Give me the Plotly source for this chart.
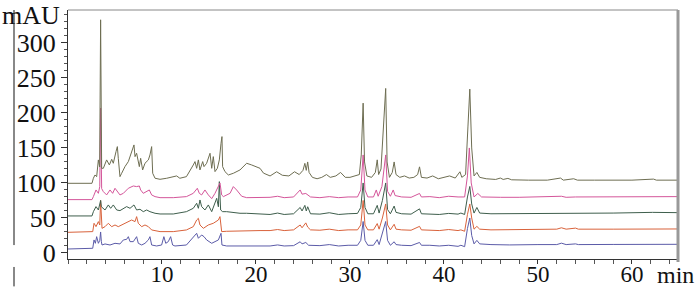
import plotly.graph_objects as go

# ---- data (time in min, absorbance in mAU) ----
t_s5 = [0, 2.55, 2.70, 2.87, 3.05, 3.23, 3.37, 3.47, 3.58, 3.76, 4.11, 4.40, 4.65, 4.82, 5.11, 5.25, 5.35, 5.53, 5.71, 6.06,
        6.42, 6.77, 7.02, 7.13, 7.30, 7.59, 7.73, 7.94, 8.19, 8.55, 8.72, 8.90, 9.01, 9.26, 9.79, 10.5, 11.2, 11.56, 11.9, 12.6,
        13.33, 13.51, 13.69, 13.87, 14.04, 14.33, 14.47, 14.75, 15.11, 15.29, 15.46, 15.64, 15.89, 16.10, 16.28, 16.38, 16.45,
        16.70, 17.06, 17.59, 18.30, 19.01, 19.54, 20.43, 20.8, 21.5, 22.2, 22.8, 23.5, 24.1, 24.6, 25.0, 25.2, 25.35, 25.5,
        25.65, 26.0, 26.5, 27.0, 27.5, 27.9, 28.5, 29.0, 29.5, 30.0, 30.6, 31.0, 31.2, 31.4, 31.55, 31.8, 32.3, 32.7, 32.9,
        33.05, 33.3, 33.5, 33.8, 33.95, 34.2, 34.5, 34.7, 34.9, 35.3, 35.8, 36.3, 36.8, 37.2, 37.4, 37.6, 38.2, 38.8, 39.4,
        40.0, 40.6, 41.2, 41.7, 41.9, 42.3, 42.55, 42.75, 42.95, 43.2, 43.5, 43.8, 44.5, 45.5, 46.0, 46.3, 46.8, 47.2, 49.0,
        51.0, 52.4, 52.7, 53.8, 54.2, 56.0, 58.0, 60.0, 62.3, 62.6, 64.9]
v_s5 = [99.5, 99.5, 106.7, 111.4, 109, 132.9, 123, 333, 121, 120.9, 132.9, 125.7, 133.8, 128.1, 144.8, 151.9, 135.2, 109, 113.8, 123.3,
        130.5, 144.8, 154.3, 137.6, 142.4, 123.3, 135.2, 118.6, 128.1, 132.9, 140, 151.9, 113.8, 106.7, 105.2, 106.7, 109, 110, 106.7, 109,
        125.7, 130.5, 120.9, 132.9, 118.6, 130.5, 123.3, 128.1, 142.4, 120.9, 137.6, 116.2, 120.9, 132.9, 156.7, 166.2, 123.3,
        116.2, 111.4, 113.8, 118.6, 128.1, 125.7, 120.9, 114, 110, 116, 111, 110, 116, 112, 118, 128, 118, 130,
        115, 108, 106, 108, 112, 108, 110, 115, 108, 108, 110, 112, 140, 214, 130, 110, 108, 115, 133,
        112, 120, 160, 235, 130, 108, 115, 130, 112, 108, 110, 107, 108, 112, 123, 108, 107, 110, 106,
        108, 110, 107, 116, 108, 112, 180, 234, 150, 110, 115, 108, 106, 105, 107, 105, 106.5, 104.5, 104,
        104, 107, 104, 106, 104, 104, 104, 104, 105.5, 104, 104]

t_s4 = [0, 2.55, 2.70, 2.98, 3.23, 3.38, 3.47, 3.58, 3.76, 4.11, 4.47, 4.75, 5.0, 5.25, 5.53, 5.89, 6.42, 6.95, 7.30, 7.59,
        7.73, 8.01, 8.37, 8.65, 8.90, 9.26, 9.79, 11.2, 12.6, 13.33, 13.76, 13.97, 14.22, 14.57, 14.93, 15.29, 15.64, 15.89,
        16.17, 16.35, 16.53, 17.24, 17.59, 17.94, 18.48, 19.01, 20.43, 21.5, 22.3, 23.0, 24.0, 24.7, 24.9, 25.3, 25.8, 26.8,
        27.8, 28.8, 29.8, 30.8, 31.15, 31.4, 31.6, 31.9, 32.5, 32.8, 33.0, 33.4, 33.8, 34.0, 34.3, 34.6, 34.8, 35.5, 36.5,
        37.4, 37.6, 38.5, 39.5, 40.5, 41.5, 42.2, 42.5, 42.7, 42.9, 43.2, 43.6, 44.0, 46.0, 48.0, 52.5, 53.0, 54.0, 58.0,
        62.0, 64.9]
v_s4 = [76.2, 76.2, 80.5, 90, 85.2, 95, 207, 92, 87.6, 82.9, 90, 85.2, 92.4, 87.6, 82.9, 85.2, 92.4, 95.7, 94.8, 95.7,
        90, 85.2, 87.6, 90, 82.9, 80.5, 79, 79, 80.5, 85.2, 92.4, 85.2, 82.9, 90, 82.9, 77.6, 85.2, 92.4,
        100, 82.9, 80.5, 85.2, 94.8, 90, 81, 79, 79, 79.5, 81, 79, 80, 90, 84, 85, 80, 79,
        80.5, 79, 80, 80, 90, 140, 90, 80, 80, 90, 81, 95, 140, 88, 81, 90, 82, 80, 79.5,
        85, 80, 80.5, 79, 81, 80, 80, 110, 150, 100, 80, 85, 80, 79.5, 79.5, 81, 79.5, 80, 80,
        80.5, 80.5]

t_s3 = [0, 2.55, 2.70, 2.98, 3.23, 3.40, 3.47, 3.55, 3.69, 3.94, 4.29, 4.54, 4.82, 5.18, 5.53, 5.89, 6.24, 6.60, 7.02, 7.30,
        7.66, 8.01, 8.37, 8.72, 9.26, 9.79, 11.2, 12.6, 13.33, 13.69, 13.87, 14.04, 14.22, 14.57, 14.93, 15.29, 15.53, 15.82,
        16.0, 16.10, 16.24, 16.45, 16.88, 18.3, 19.0, 20.43, 21.5, 22.3, 23.0, 24.0, 24.7, 24.9, 25.2, 25.35, 25.5, 25.8,
        26.8, 27.8, 28.8, 29.8, 30.8, 31.15, 31.4, 31.6, 31.9, 32.5, 32.9, 33.1, 33.45, 33.8, 34.0, 34.3, 34.7, 34.9, 35.5,
        36.5, 37.4, 37.6, 38.5, 39.5, 40.5, 41.5, 41.8, 42.2, 42.5, 42.75, 42.95, 43.2, 43.5, 43.8, 45.0, 47.0, 52.5, 53.0,
        54.0, 58.0, 62.2, 64.9]
v_s3 = [52.9, 52.9, 59, 66.2, 61.4, 68.6, 75, 66, 63.8, 61.4, 68.6, 63.8, 68.6, 61.4, 60.5, 63.8, 66.2, 63.8, 68.6, 61.4,
        62.4, 59, 61.4, 59, 56.7, 55.7, 55.7, 59, 63.8, 71, 63.8, 75.7, 66.2, 61.4, 68.6, 59, 68.6, 78.1,
        66, 101.9, 61.4, 59, 59, 56.7, 56.7, 55.5, 55, 57, 55, 56, 65, 60, 68, 60, 66, 56,
        55.5, 57.5, 55, 56, 56.5, 65, 100, 65, 56, 56, 68, 57, 75, 100, 62, 56, 67, 58, 56,
        55.5, 63, 56, 56, 55, 56.5, 55.5, 57, 55, 80, 95, 70, 57, 65, 57, 56, 56, 57, 56,
        57, 57, 58, 57.6]

t_s2 = [0, 2.55, 2.63, 2.77, 2.98, 3.23, 3.38, 3.47, 3.56, 3.62, 3.94, 4.29, 4.65, 5.0, 5.35, 5.71, 6.24, 6.77, 7.13, 7.30,
        7.48, 7.84, 8.19, 8.55, 8.90, 9.79, 11.2, 12.6, 13.33, 13.69, 13.87, 14.04, 14.40, 14.93, 15.46, 16.0, 16.17, 16.35,
        16.88, 19.0, 20.43, 21.5, 22.3, 23.0, 24.0, 24.7, 24.9, 25.3, 25.5, 25.8, 26.8, 27.8, 28.8, 29.8, 30.8, 31.15, 31.4,
        31.6, 31.9, 32.5, 32.9, 33.1, 33.45, 33.8, 34.0, 34.3, 34.7, 34.9, 35.5, 36.5, 37.4, 37.6, 38.5, 39.5, 40.5, 41.5,
        41.8, 42.2, 42.5, 42.75, 42.95, 43.2, 43.5, 43.8, 45.0, 47.0, 50.0, 52.0, 52.5, 53.0, 54.0, 54.3, 58.0, 62.0, 64.9]
v_s2 = [29.5, 29.5, 30.5, 42.4, 37.6, 44.8, 40, 75, 42, 35.2, 37.6, 42.4, 37.6, 40, 37.6, 40, 42.4, 47.1, 44.8, 51.9,
        42.4, 37.6, 40, 37.6, 32.9, 30.5, 30.5, 32.9, 37.6, 47.1, 49.5, 40, 35.2, 40, 42.4, 47.1, 51.9, 30.5,
        31, 32, 32, 32, 33.5, 32, 33, 40, 36, 43, 37, 33, 32.5, 34, 32, 33, 33, 40, 75,
        40, 33, 33, 42, 34, 50, 70, 40, 33, 41, 34, 33, 32.5, 38, 33, 33, 32, 33.5, 32,
        33, 31, 55, 70, 50, 34, 38, 34, 33, 33, 33.5, 34, 36, 34, 35.5, 34, 34, 34.3, 34.3]

t_s1 = [0, 2.55, 2.63, 2.77, 2.91, 3.05, 3.23, 3.38, 3.47, 3.55, 3.62, 3.94, 4.47, 5.0, 5.53, 5.89, 6.24, 6.42, 6.60, 6.95,
        7.30, 7.48, 7.84, 8.19, 8.55, 8.72, 8.90, 9.43, 9.96, 10.2, 10.4, 10.67, 10.92, 11.13, 11.38, 12.6, 13.33, 13.69,
        13.87, 14.22, 14.47, 14.75, 15.29, 15.64, 16.0, 16.28, 16.38, 16.88, 20.43, 21.5, 22.3, 23.0, 24.0, 24.7, 24.9, 25.3,
        25.6, 26.8, 27.8, 28.8, 29.8, 30.8, 31.15, 31.4, 31.6, 31.9, 32.5, 32.9, 33.1, 33.45, 33.8, 34.0, 34.3, 34.7, 34.9,
        35.5, 36.5, 37.4, 37.6, 38.5, 39.5, 40.5, 41.5, 41.8, 42.2, 42.5, 42.75, 42.95, 43.2, 43.5, 43.8, 45.0, 47.0, 50.0,
        52.0, 52.5, 53.0, 54.0, 54.3, 58.0, 62.0, 64.9]
v_s1 = [5.7, 5.7, 6.7, 18.6, 13.8, 23.3, 13.8, 18, 30, 16, 11.4, 12.9, 11.4, 13.8, 12.9, 18.6, 19.5, 23.3, 16.2, 16.2,
        23.3, 13.8, 11.4, 13.8, 18.6, 23.3, 11.4, 10, 11.4, 23.3, 13.8, 16.2, 23.3, 11.4, 10, 11.4, 23.3, 28.1,
        21, 25.7, 23.3, 18.6, 13.8, 16.2, 18.6, 28.1, 11.4, 10, 10, 10, 11.5, 10, 10.5, 16, 13, 15,
        11, 10.5, 12, 10, 11, 11, 18, 45, 18, 11, 11, 19, 12, 28, 45, 18, 11, 16, 12,
        11, 10.5, 15, 11, 11, 10, 11, 9.5, 11, 9, 35, 50, 25, 13, 18, 13, 12, 11.5, 12,
        12, 14, 12, 13, 12, 12.2, 12.4, 12.4]

series = [
    (t_s1, v_s1, "#5b5ba8"),
    (t_s2, v_s2, "#d9623b"),
    (t_s3, v_s3, "#3e5e4c"),
    (t_s4, v_s4, "#d4569a"),
    (t_s5, v_s5, "#6e6e52"),
]

y_ticks = [0, 50, 100, 150, 200, 250, 300]
x_ticks = [10, 20, 30, 40, 50, 60]

fig = go.Figure()
for t, v, c in series:
    fig.add_trace(go.Scatter(x=t, y=v, mode="lines", line=dict(color=c, width=1), showlegend=False,
                             hoverinfo="skip"))

font = "Liberation Serif, Times New Roman, serif"
fig.update_layout(
    width=700, height=287,
    margin=dict(l=68, r=22, t=10, b=28),
    paper_bgcolor="white", plot_bgcolor="white",
    xaxis=dict(range=[0, 64.9], tickvals=x_ticks, ticks="outside", ticklen=4, tickcolor="#333",
               showline=True, linecolor="#333", linewidth=1, showgrid=False, zeroline=False, automargin=False,
               ticklabelstandoff=-10,
               tickfont=dict(family=font, size=23, color="#111"),
               minor=dict(dtick=2, ticks="outside", ticklen=4, tickcolor="#555")),
    yaxis=dict(range=[-8.6, 347], tickvals=y_ticks, ticks="outside", ticklen=6, tickcolor="#333",
               showline=True, linecolor="#333", linewidth=1, showgrid=False, zeroline=False, automargin=False,
               tickfont=dict(family=font, size=26, color="#111"),
               minor=dict(dtick=10, ticks="outside", ticklen=3, tickcolor="#555")),
    shapes=[
        dict(type="line", xref="paper", yref="paper", x0=0, x1=1, y0=1, y1=1, line=dict(color="#888", width=1)),
        dict(type="line", xref="paper", yref="paper", x0=1, x1=1, y0=1, y1=-0.012, line=dict(color="#999", width=3)),
        dict(type="line", xref="paper", yref="paper", x0=-0.0885, x1=-0.0885, y0=1, y1=0.056,
             line=dict(color="#888", width=2)),
        dict(type="line", xref="paper", yref="paper", x0=-0.0885, x1=-0.0885, y0=-0.032, y1=-0.11,
             line=dict(color="#888", width=2)),
    ],
    annotations=[
        dict(text="mAU", xref="paper", yref="paper", x=-0.111, y=1.045, xanchor="left", yanchor="top",
             showarrow=False, font=dict(family=font, size=26, color="#111")),
        dict(text="min", xref="paper", yref="paper", x=0.962, y=-0.005, xanchor="left", yanchor="top",
             showarrow=False, font=dict(family=font, size=24, color="#111")),
    ],
)

fig.write_html("out.html", config={"displayModeBar": False},
               post_script="document.body.style.margin='0';document.body.style.overflow='hidden';")
